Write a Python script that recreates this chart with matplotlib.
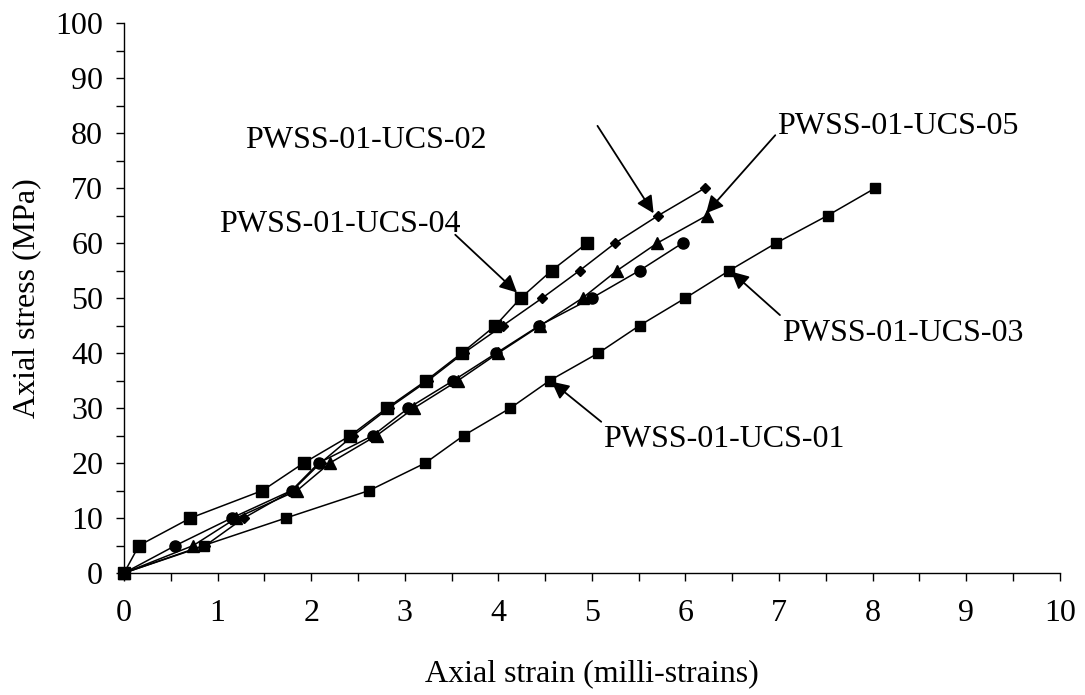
import matplotlib.pyplot as plt
from matplotlib.ticker import MultipleLocator

# strain (milli-strains) / stress (MPa)
ucs01_x = [0, 0.85, 1.73, 2.62, 3.22, 3.63, 4.13, 4.55, 5.07, 5.51, 6.0, 6.47, 6.97, 7.52, 8.03]
ucs01_y = [0, 5, 10, 15, 20, 25, 30, 35, 40, 45, 50, 55, 60, 65, 70]

ucs02_x = [0, 0.87, 1.28, 1.8, 2.1, 2.45, 2.83, 3.25, 3.63, 4.05, 4.47, 4.87, 5.25, 5.71, 6.21]
ucs02_y = [0, 5, 10, 15, 20, 25, 30, 35, 40, 45, 50, 55, 60, 65, 70]

ucs03_x = [0, 0.55, 1.15, 1.79, 2.08, 2.66, 3.04, 3.52, 3.98, 4.44, 5.0, 5.51, 5.97]
ucs03_y = [0, 5, 10, 15, 20, 25, 30, 35, 40, 45, 50, 55, 60]

ucs04_x = [0, 0.16, 0.71, 1.48, 1.92, 2.42, 2.81, 3.23, 3.61, 3.97, 4.24, 4.57, 4.95]
ucs04_y = [0, 5, 10, 15, 20, 25, 30, 35, 40, 45, 50, 55, 60]

ucs05_x = [0, 0.74, 1.2, 1.85, 2.2, 2.7, 3.1, 3.57, 4.0, 4.45, 4.9, 5.27, 5.7, 6.23]
ucs05_y = [0, 5, 10, 15, 20, 25, 30, 35, 40, 45, 50, 55, 60, 65]

# label text, text position (left, baseline), arrow start, arrow tip
labels = ['PWSS-01-UCS-02', 'PWSS-01-UCS-05', 'PWSS-01-UCS-04', 'PWSS-01-UCS-03', 'PWSS-01-UCS-01']
label_pos = [(1.29, 77.3), (6.98, 79.8), (1.02, 62.0), (7.03, 42.2), (5.12, 22.9)]
arrow_from = [(5.06, 81.3), (6.96, 79.6), (3.54, 61.5), (7.01, 46.9), (5.10, 27.5)]
arrow_to = [(5.66, 65.4), (6.22, 65.4), (4.2, 51.0), (6.49, 54.8), (4.57, 34.8)]

plt.rcParams['font.family'] = ['Liberation Serif', 'DejaVu Serif']

fig = plt.figure(figsize=(10.85, 6.95), dpi=100)
ax = fig.add_axes([0.1143, 0.1755, 0.8624, 0.7914])

ax.plot(ucs01_x, ucs01_y, color='black', lw=1.1, marker='s', ms=7.5, zorder=3)
ax.plot(ucs02_x, ucs02_y, color='black', lw=1.1, marker='D', ms=5.5, zorder=3)
ax.plot(ucs03_x, ucs03_y, color='black', lw=1.1, marker='o', ms=8, zorder=3)
ax.plot(ucs04_x, ucs04_y, color='black', lw=1.1, marker='s', ms=8, zorder=3)
ax.plot(ucs05_x, ucs05_y, color='black', lw=1.1, marker='^', ms=8, zorder=3)

fs = 23
for txt, pos, a, b in zip(labels, label_pos, arrow_from, arrow_to):
    ax.text(pos[0], pos[1], txt, fontsize=fs, ha='left', va='baseline')
    ax.annotate('', xy=b, xytext=a,
                arrowprops=dict(arrowstyle='-|>', color='black', lw=1.3,
                                mutation_scale=26, shrinkA=0, shrinkB=0))

ax.set_xlim(0, 10)
ax.set_ylim(0, 100)
ax.xaxis.set_major_locator(MultipleLocator(1))
ax.xaxis.set_minor_locator(MultipleLocator(0.5))
ax.yaxis.set_major_locator(MultipleLocator(10))
ax.yaxis.set_minor_locator(MultipleLocator(5))
ax.tick_params(which='both', direction='out', length=6, width=1, color='black')
ax.tick_params(axis='x', labelsize=fs, pad=13)
ax.tick_params(axis='y', labelsize=fs, pad=9)

for s in ['top', 'right']:
    ax.spines[s].set_visible(False)
for s in ['left', 'bottom']:
    ax.spines[s].set_linewidth(1)

ax.set_xlabel('Axial strain (milli-strains)', fontsize=fs, labelpad=22)
ax.set_ylabel('Axial stress (MPa)', fontsize=fs, labelpad=10)

for line in ax.lines:
    line.set_clip_on(False)

fig.savefig('out.png', dpi=100)
